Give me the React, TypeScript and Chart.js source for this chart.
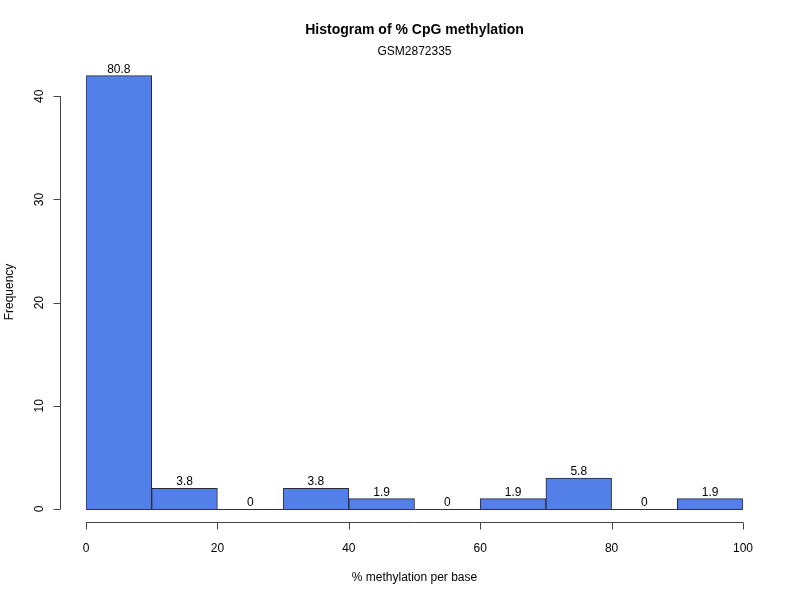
import React, { useEffect, useRef } from "react";
import { Chart, registerables } from "chart.js";

Chart.register(...registerables);

const binMids = [5, 15, 25, 35, 45, 55, 65, 75, 85, 95];
const counts = [42, 2, 0, 2, 1, 0, 1, 3, 0, 1];
const pctLabels = ["80.8", "3.8", "0", "3.8", "1.9", "0", "1.9", "5.8", "0", "1.9"];
const xTicks = [0, 20, 40, 60, 80, 100];
const yTicks = [0, 10, 20, 30, 40];
const titleText = "Histogram of % CpG methylation";
const subtitleText = "GSM2872335";
const xLabel = "% methylation per base";
const yLabel = "Frequency";

const FONT = "Liberation Sans, Arial, Helvetica, sans-serif";

export default function App() {
  const ref = useRef<HTMLCanvasElement | null>(null);
  useEffect(() => {
    if (!ref.current) return;
    const rPlugin = {
      id: "rstyle",
      afterDatasetsDraw(chart: any) {
        const ctx = chart.ctx;
        const xs = chart.scales.x;
        const ys = chart.scales.y;
        const area = chart.chartArea;
        ctx.save();
        // baseline for empty bins
        ctx.strokeStyle = "#333";
        ctx.lineWidth = 1;
        ctx.beginPath();
        ctx.moveTo(xs.getPixelForValue(0), Math.round(ys.getPixelForValue(0)) + 0.5);
        ctx.lineTo(xs.getPixelForValue(100), Math.round(ys.getPixelForValue(0)) + 0.5);
        ctx.stroke();
        // bar labels
        ctx.fillStyle = "#000";
        ctx.font = `12px ${FONT}`;
        ctx.textAlign = "center";
        ctx.textBaseline = "alphabetic";
        binMids.forEach((m, i) => {
          const px = xs.getPixelForValue(m);
          const py = ys.getPixelForValue(counts[i]);
          ctx.fillText(pctLabels[i], px, py - 3);
        });
        // x axis
        const xAxisY = 522.5;
        ctx.strokeStyle = "#444";
        ctx.beginPath();
        ctx.moveTo(xs.getPixelForValue(xTicks[0]), xAxisY);
        ctx.lineTo(xs.getPixelForValue(xTicks[xTicks.length - 1]), xAxisY);
        xTicks.forEach((t) => {
          const px = Math.round(xs.getPixelForValue(t)) + 0.5;
          ctx.moveTo(px, xAxisY);
          ctx.lineTo(px, xAxisY + 7);
        });
        ctx.stroke();
        ctx.textBaseline = "middle";
        xTicks.forEach((t) => {
          ctx.fillText(String(t), xs.getPixelForValue(t), 549);
        });
        // y axis
        const yAxisX = 60.5;
        ctx.beginPath();
        ctx.moveTo(yAxisX, ys.getPixelForValue(yTicks[0]));
        ctx.lineTo(yAxisX, ys.getPixelForValue(yTicks[yTicks.length - 1]));
        yTicks.forEach((t) => {
          const py = Math.round(ys.getPixelForValue(t)) + 0.5;
          ctx.moveTo(yAxisX, py);
          ctx.lineTo(yAxisX - 7, py);
        });
        ctx.stroke();
        yTicks.forEach((t) => {
          ctx.save();
          ctx.translate(40, ys.getPixelForValue(t));
          ctx.rotate(-Math.PI / 2);
          ctx.fillText(String(t), 0, 0);
          ctx.restore();
        });
        // titles
        const cx = (xs.getPixelForValue(0) + xs.getPixelForValue(100)) / 2;
        ctx.font = `bold 14px ${FONT}`;
        ctx.fillText(titleText, cx, 30);
        ctx.font = `12px ${FONT}`;
        ctx.fillText(subtitleText, cx, 52);
        ctx.fillText(xLabel, cx, 578);
        ctx.save();
        ctx.translate(10, 292);
        ctx.rotate(-Math.PI / 2);
        ctx.fillText(yLabel, 0, 0);
        ctx.restore();
        ctx.restore();
      },
    };
    const chart = new Chart(ref.current, {
      type: "bar",
      data: {
        datasets: [
          {
            data: binMids.map((m, i) => ({ x: m, y: counts[i] })),
            backgroundColor: "#527FE8",
            borderColor: "#2a2a3a",
            borderWidth: 1,
            barPercentage: 1,
            categoryPercentage: 1,
          },
        ],
      },
      options: {
        animation: false,
        responsive: false,
        maintainAspectRatio: false,
        layout: { padding: { left: 86, right: 57, top: 55, bottom: 91 } },
        plugins: { legend: { display: false }, tooltip: { enabled: false }, title: { display: false } },
        scales: {
          x: { type: "linear", min: 0, max: 100, display: false, offset: false },
          y: { min: 0, max: 44, display: false },
        },
      },
      plugins: [rPlugin],
    });
    return () => chart.destroy();
  }, []);
  return (
    <div style={{ position: "fixed", left: 0, top: 0, width: 800, height: 600, background: "#fff" }}>
      <canvas ref={ref} width={800} height={600} style={{ width: 800, height: 600 }} />
    </div>
  );
}
